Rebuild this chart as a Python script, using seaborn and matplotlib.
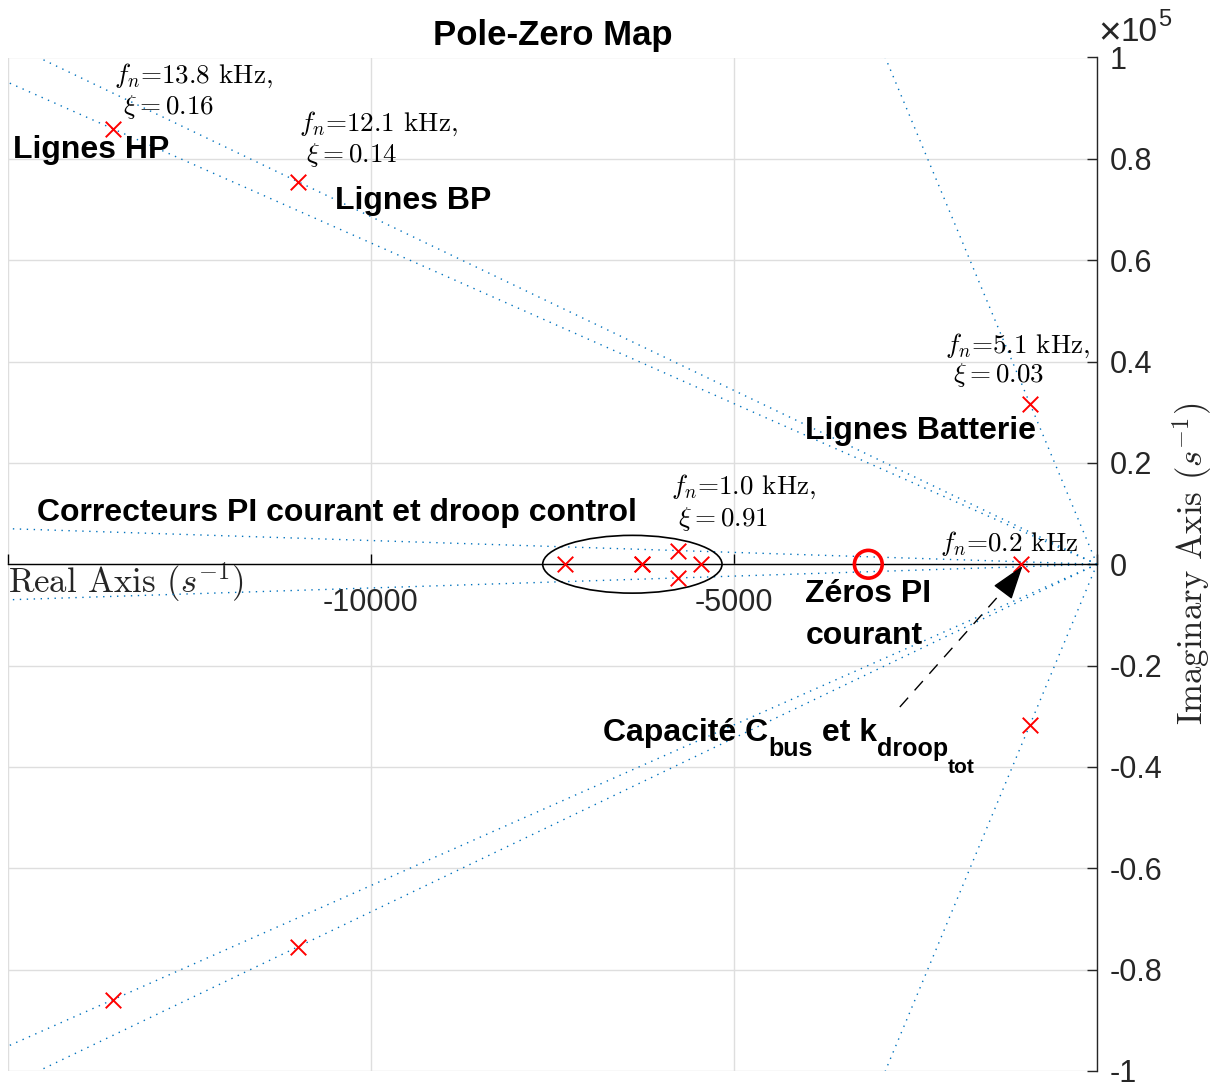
import numpy as np
import pandas as pd
import matplotlib
matplotlib.use("Agg")
import matplotlib.pyplot as plt
from matplotlib.patches import Ellipse
from matplotlib.ticker import FuncFormatter
from matplotlib.transforms import offset_copy
import seaborn as sns

# --- poles / zeros of the closed-loop system (rad/s) ---
pole_re = [-13550, -13550, -11000, -11000, -925, -925,
           -5770, -5770, -7330, -6270, -6270, -5460, -1050]
pole_im = [85900, -85900, 75450, -75450, 31720, -31720,
           2700, -2700, 0, 0, 0, 0, 0]
zero_re = [-3150]
zero_im = [0]

x_ticks = [-15000, -10000, -5000, 0]
x_ticklabels = ["", "-10000", "-5000", ""]
y_ticks = np.linspace(-1e5, 1e5, 11)

sns.set_theme(style="white")
plt.rcParams["font.family"] = ["Liberation Sans", "DejaVu Sans"]
plt.rcParams["mathtext.fontset"] = "cm"
plt.rcParams["axes.unicode_minus"] = False

W, H = 1217, 1086
fig = plt.figure(figsize=(W / 100, H / 100), dpi=100)
ax = fig.add_axes([8 / W, 15 / H, 1089 / W, 1013.5 / H])

XMIN, XMAX, YMAX = -15000, 0, 1e5
ax.set_xlim(XMIN, XMAX)
ax.set_ylim(-YMAX, YMAX)

dark = "#262626"
blue = "#0072BD"
serif = ["cmr10", "DejaVu Serif"]

# grid
ax.grid(True, color="#dedede", lw=1.0)
ax.set_axisbelow(True)

# damping lines from the origin through every complex pole
poles = pd.DataFrame({"re": pole_re, "im": pole_im})
for re, im in poles[poles["im"] > 0][["re", "im"]].drop_duplicates().itertuples(index=False):
    t = min(XMIN / re, YMAX / im)
    for sgn in (1, -1):
        ax.plot([0, re * t], [0, sgn * im * t], color=blue, lw=1.0,
                ls=(0, (1, 4)), zorder=2)

# poles and zeros
sns.scatterplot(data=poles, x="re", y="im", marker="x", color="red",
                s=125, linewidth=1.4, ax=ax, zorder=5)
ax.scatter(zero_re, zero_im, marker="o", s=400, facecolors="none",
           edgecolors="red", linewidths=2.6, zorder=5)

# axes styling: x axis through the origin, y axis on the right
for side in ("left", "top"):
    ax.spines[side].set_visible(False)
ax.spines["bottom"].set_position(("data", 0))
ax.spines["bottom"].set_color("black")
ax.spines["bottom"].set_linewidth(1.0)
ax.spines["right"].set_color(dark)
ax.spines["right"].set_linewidth(1.0)

ax.set_xticks(x_ticks, labels=x_ticklabels)
ax.set_yticks(y_ticks)
ax.yaxis.set_major_formatter(FuncFormatter(lambda v, p: f"{v / 1e5:g}"))
ax.yaxis.tick_right()
ax.tick_params(axis="x", direction="in", length=7, width=1, color="black",
               labelsize=22, labelcolor=dark, pad=17, bottom=True, top=False)
ax.tick_params(axis="y", direction="in", length=7, width=1, color=dark,
               labelsize=22, labelcolor=dark, pad=9, left=False, right=True)

ax.set_xlabel(r"Real Axis ($s^{-1}$)", fontsize=25, color=dark,
              fontfamily=serif, ha="left", va="baseline")
ax.xaxis.set_label_coords(0.0, (1071 - 593) / 1013.5)
ax.yaxis.set_label_position("right")
ax.set_ylabel(r"Imaginary Axis ($s^{-1}$)", fontsize=25, color=dark,
              fontfamily=serif, rotation=90, ha="center", va="center")
ax.yaxis.set_label_coords((1192 - 8) / 1089, 0.5)

ax.set_title("Pole-Zero Map", fontsize=25, fontweight="bold", color="black",
             pad=9)

renderer = fig.canvas.get_renderer()


def chain(x, y, pieces, transform, **common):
    """Draw consecutive text pieces (text, size, dy_px) on one baseline."""
    dx = 0.0
    for s, size, dy in pieces:
        tr = offset_copy(transform, fig=fig, x=dx, y=dy, units="dots")
        t = ax.text(x, y, s, fontsize=size, transform=tr, ha="left",
                    va="baseline", **common)
        dx += t.get_window_extent(renderer).width


# exponent of the imaginary axis
chain((1098 - 8) / 1089, (1071 - 41) / 1013.5,
      [("×", 28, -3), ("10", 24, 0), ("5", 17, 15)], ax.transAxes,
      color=dark)

# natural frequency / damping annotations
notes = [
    (-13540, 95050, r"$f_n$=13.8 kHz,"),
    (-13420, 88800, r"$\xi = 0.16$"),
    (-10990, 85630, r"$f_n$=12.1 kHz,"),
    (-10890, 79450, r"$\xi = 0.14$"),
    (-2090, 41770, r"$f_n$=5.1 kHz,"),
    (-1990, 35970, r"$\xi = 0.03$"),
    (-5870, 13810, r"$f_n$=1.0 kHz,"),
    (-5770, 7560, r"$\xi = 0.91$"),
    (-2160, 2620, r"$f_n$=0.2 kHz"),
]
for x, y, s in notes:
    ax.text(x, y, s, fontsize=19.5, color="black", fontfamily=serif,
            ha="left", va="baseline", zorder=6)

labels = [
    (-14930, 80100, "Lignes HP"),
    (-10500, 70040, "Lignes BP"),
    (-4016, 24660, "Lignes Batterie"),
    (-14600, 8540, "Correcteurs PI courant et droop control"),
    (-4016, -7500, "Zéros PI"),
    (-4016, -15780, "courant"),
]
for x, y, s in labels:
    ax.text(x, y, s, fontsize=23, fontweight="bold", color="black",
            ha="left", va="baseline", zorder=6)

chain(-6800, -34900,
      [("Capacité C", 23, 0), ("bus", 18, -15), (" et k", 23, 0),
       ("droop", 18, -15), ("tot", 15, -32)],
      ax.transData, fontweight="bold", color="black", zorder=6)

# ellipse around the controller poles
ax.add_patch(Ellipse((-6400, 0), width=2470, height=11400, fill=False,
                     ec="black", lw=1.2, zorder=4))

# dashed arrow towards the bus-capacitor pole
ax.plot([-2716, -1214], [-28170, -3946], color="black", lw=1.0,
        ls=(0, (9, 7)), zorder=4)
ax.annotate("", xy=(-1025, -335), xytext=(-1214, -3946),
            arrowprops=dict(arrowstyle="-|>,head_length=1.8,head_width=0.6",
                            color="black", lw=1.0, shrinkA=0, shrinkB=0),
            zorder=6)

fig.savefig("out.png", dpi=100, facecolor="white")
